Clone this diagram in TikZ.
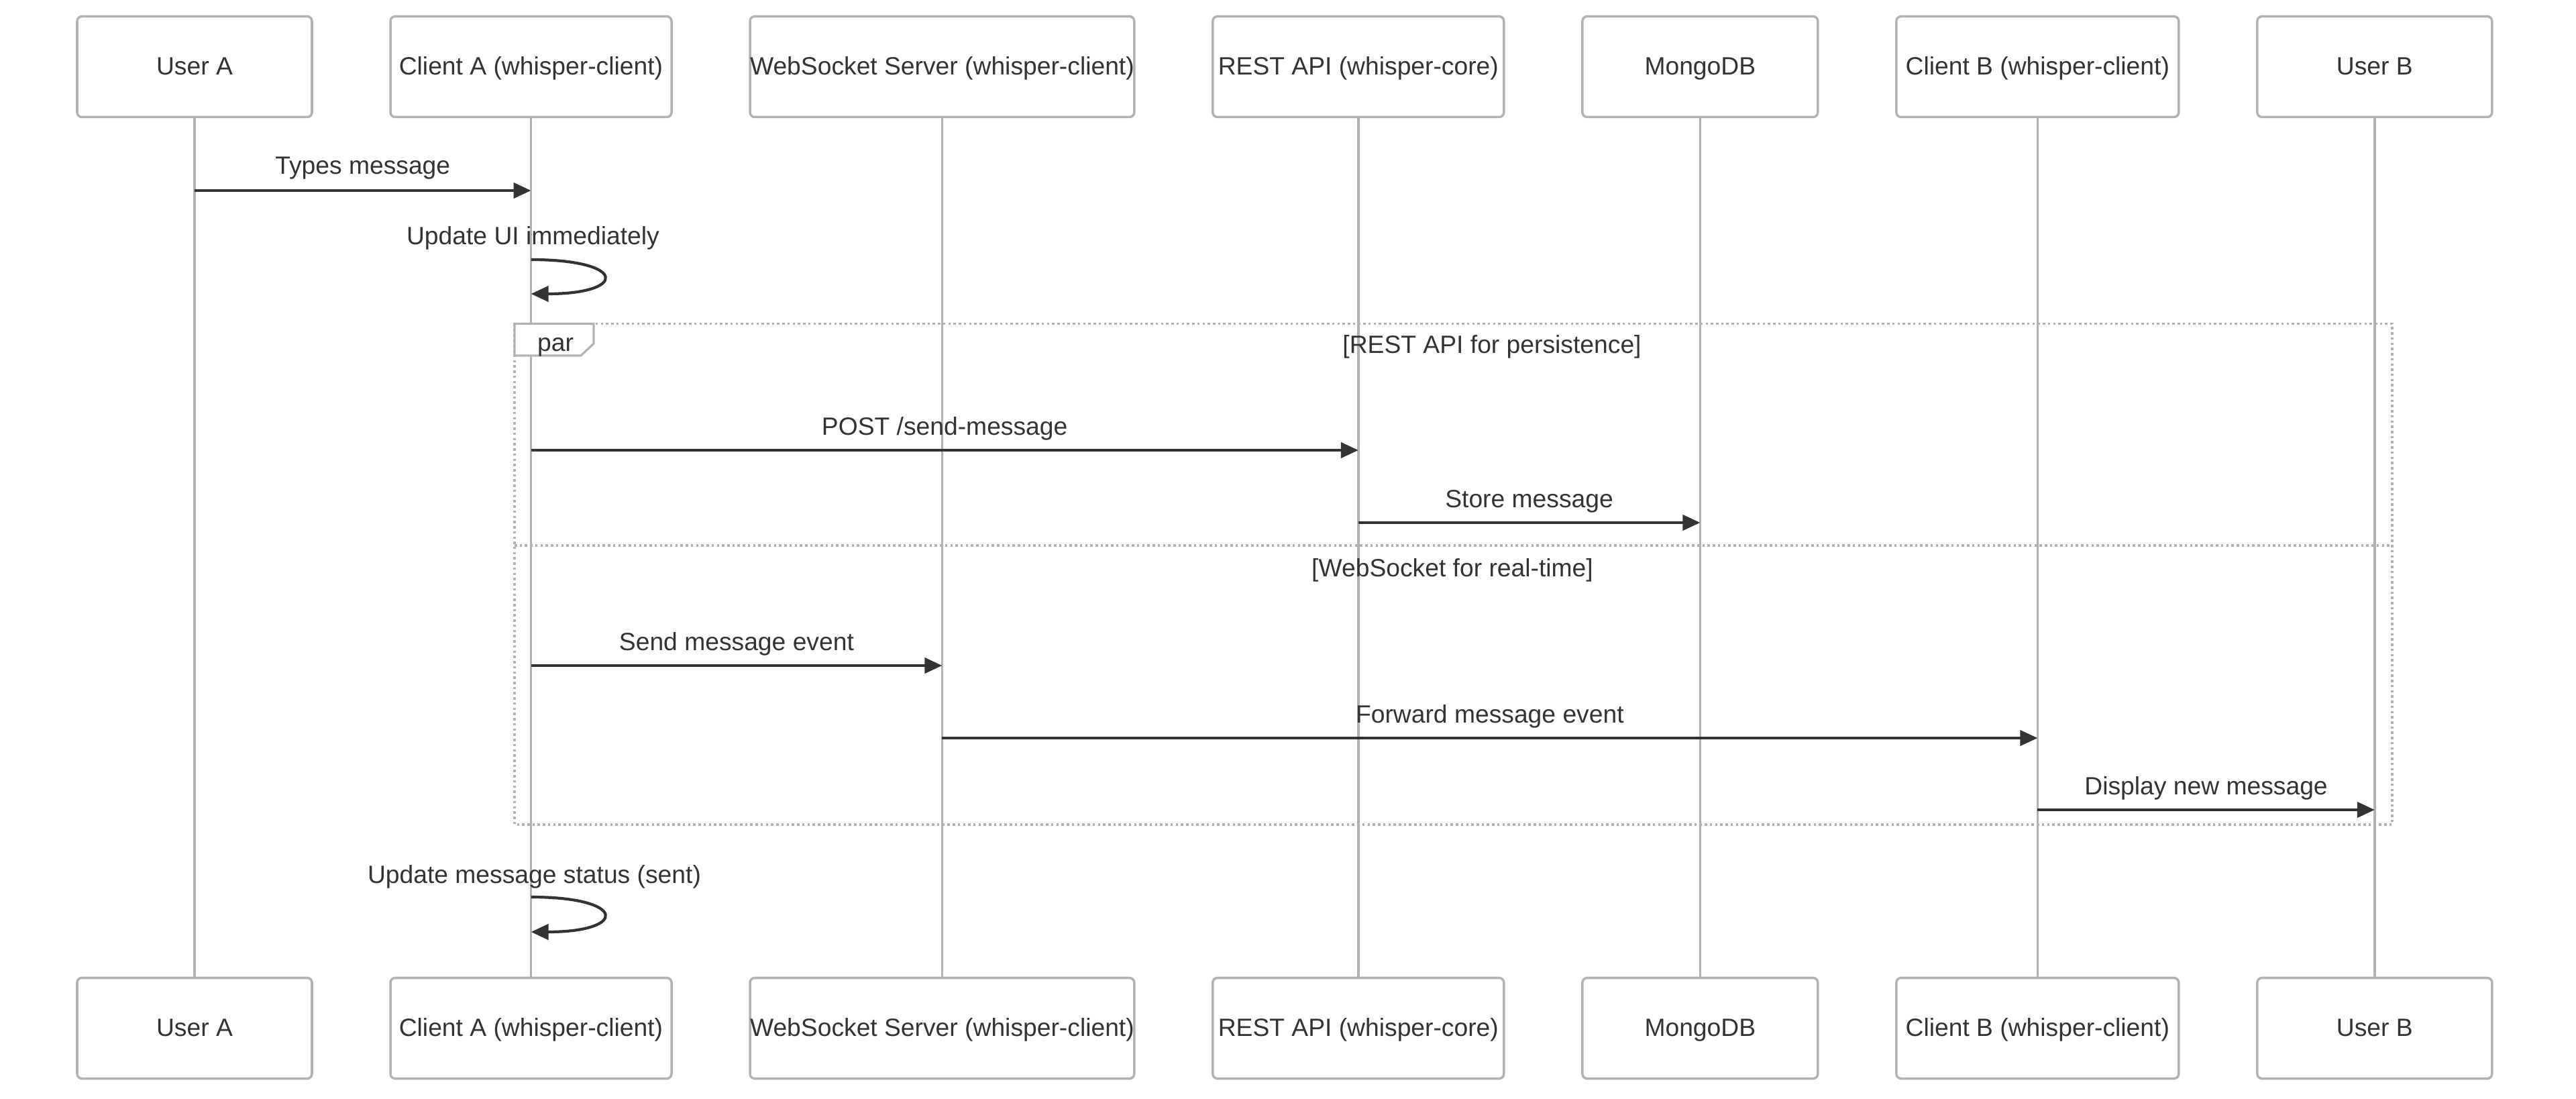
\documentclass[tikz,border=0pt]{standalone}
\usepackage{fontspec}
\setmainfont{Liberation Sans}
\usepackage{tikz}
\usetikzlibrary{positioning, calc}
\usetikzlibrary{arrows.meta}

\definecolor{lgray}{RGB}{178,178,178}
\definecolor{tdark}{RGB}{51,51,51}

\tikzset{
    actor/.style={draw=lgray, fill=white, line width=1pt, rounded corners=2pt,
        minimum height=1.5cm, inner xsep=0pt, outer sep=0pt, text=tdark,
        text height=0.92em, text depth=0.21em,
        font=\fontsize{10.6}{12.7}\selectfont},
    life/.style={draw=lgray, line width=1pt},
    msg/.style={draw=tdark, line width=1.2pt, -{Triangle[length=0.26cm, width=0.23cm]}},
    lbl/.style={text=tdark, inner sep=0pt, text height=0.72em, text depth=0.21em,
        font=\fontsize{10.6}{12.7}\selectfont},
    frame/.style={draw=lgray, line width=0.9pt, dash pattern=on 1pt off 1.2pt}
}

\begin{document}
\begin{tikzpicture}
    \useasboundingbox (0,0) rectangle (38.4,-16.38);

    \node[actor, minimum width=3.5cm] (ua) at (2.90,-0.995) {User A};
    \node[actor, minimum width=4.19cm, right=1.17cm of ua] (ca) {Client A (whisper-client)};
    \node[actor, minimum width=5.71cm, right=1.17cm of ca] (ws) {WebSocket Server (whisper-client)};
    \node[actor, minimum width=4.34cm, right=1.17cm of ws] (rest) {REST API (whisper-core)};
    \node[actor, minimum width=3.51cm, right=1.17cm of rest] (mdb) {MongoDB};
    \node[actor, minimum width=4.21cm, right=1.17cm of mdb] (cb) {Client B (whisper-client)};
    \node[actor, minimum width=3.5cm, right=1.17cm of cb] (ub) {User B};

    \node[actor, minimum width=3.5cm, below=12.83cm of ua] (ua2) {User A};
    \node[actor, minimum width=4.19cm, below=12.83cm of ca] (ca2) {Client A (whisper-client)};
    \node[actor, minimum width=5.71cm, below=12.83cm of ws] (ws2) {WebSocket Server (whisper-client)};
    \node[actor, minimum width=4.34cm, below=12.83cm of rest] (rest2) {REST API (whisper-core)};
    \node[actor, minimum width=3.51cm, below=12.83cm of mdb] (mdb2) {MongoDB};
    \node[actor, minimum width=4.21cm, below=12.83cm of cb] (cb2) {Client B (whisper-client)};
    \node[actor, minimum width=3.5cm, below=12.83cm of ub] (ub2) {User B};

    \foreach \p in {ua, ca, ws, rest, mdb, cb, ub}
        \draw[life] (\p.south) -- (\p2.north);

    \coordinate (fr1) at (7.67,-4.825);
    \coordinate (fr2) at (35.66,-12.29);
    \draw[frame] (fr1) rectangle (fr2);
    \draw[frame] (fr1 |- 0,-8.13) -- (fr2 |- 0,-8.13);
    \draw[draw=lgray, fill=white, line width=0.9pt]
        (7.67,-4.825) -- (8.85,-4.825) -- (8.85,-5.12) -- (8.66,-5.30) -- (7.67,-5.30) -- cycle;
    \node[lbl] (par) at (8.28,-5.15) {par};
    \node[lbl] (alt1) at (22.24,-5.18) {[REST API for persistence]};
    \node[lbl] (alt2) at (21.65,-8.51) {[WebSocket for real-time]};

    \coordinate (m1a) at (ua |- 0,-2.84);
    \coordinate (m1b) at (ca |- 0,-2.84);
    \coordinate (s1a) at (ca |- 0,-3.87);
    \coordinate (s1b) at (ca |- 0,-4.38);
    \coordinate (m2a) at (ca |- 0,-6.71);
    \coordinate (m2b) at (rest |- 0,-6.71);
    \coordinate (m3a) at (rest |- 0,-7.79);
    \coordinate (m3b) at (mdb |- 0,-7.79);
    \coordinate (m4a) at (ca |- 0,-9.92);
    \coordinate (m4b) at (ws |- 0,-9.92);
    \coordinate (m5a) at (ws |- 0,-11.00);
    \coordinate (m5b) at (cb |- 0,-11.00);
    \coordinate (m6a) at (cb |- 0,-12.07);
    \coordinate (m6b) at (ub |- 0,-12.07);
    \coordinate (s2a) at (ca |- 0,-13.37);
    \coordinate (s2b) at (ca |- 0,-13.89);

    \draw[msg] (m1a) -- (m1b) node[lbl, midway, yshift=0.33cm] (l1) {Types message};
    \node[lbl] (l2) at ($(ca |- 0,-3.56)+(0.03,0)$) {Update UI immediately};
    \draw[msg] (s1a) .. controls +(1.44,0) and +(1.44,0) .. (s1b);
    \draw[msg] (m2a) -- (m2b) node[lbl, midway, yshift=0.31cm] (l3) {POST /send-message};
    \draw[msg] (m3a) -- (m3b) node[lbl, midway, yshift=0.31cm] (l4) {Store message};
    \draw[msg] (m4a) -- (m4b) node[lbl, midway, yshift=0.31cm] (l5) {Send message event};
    \draw[msg] (m5a) -- (m5b) node[lbl, midway, yshift=0.31cm] (l6) {Forward message event};
    \draw[msg] (m6a) -- (m6b) node[lbl, midway, yshift=0.31cm] (l7) {Display new message};
    \node[lbl] (l8) at ($(ca |- 0,-13.08)+(0.05,0)$) {Update message status (sent)};
    \draw[msg] (s2a) .. controls +(1.44,0) and +(1.44,0) .. (s2b);
\end{tikzpicture}
\end{document}
